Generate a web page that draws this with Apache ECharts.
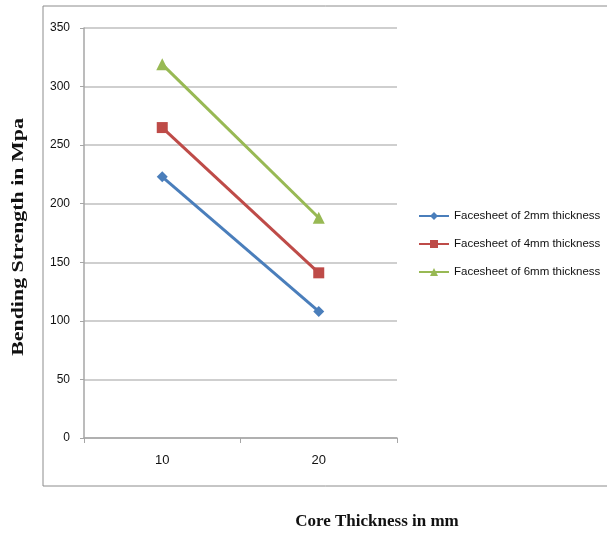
<!DOCTYPE html>
<html><head><meta charset="utf-8">
<script src="https://cdn.jsdelivr.net/npm/echarts@6/dist/echarts.min.js"></script>
<style>html,body{margin:0;padding:0;background:#fff}#c{width:607px;height:533px}</style>
</head><body><div id="c"></div>
<script>
const categories = ['10', '20'];
const series2mm = [223, 108];
const series4mm = [265, 141];
const series6mm = [319, 188];
const seriesNames = ['Facesheet of 2mm thickness', 'Facesheet of 4mm thickness', 'Facesheet of 6mm thickness'];
const yTitle = 'Bending Strength in Mpa';
const xTitle = 'Core Thickness in mm';

const chart = echarts.init(document.getElementById('c'), null, {renderer: 'canvas'});
const labelFont = '"Liberation Sans", Arial, sans-serif';
const mk = (name, data, color, symbol, size) => ({
  name, type: 'line', data, symbol, symbolSize: size,
  lineStyle: {color, width: 3}, itemStyle: {color}, animation: false
});
chart.setOption({
  animation: false,
  backgroundColor: '#fff',
  grid: {left: 84, right: 210, top: 28, bottom: 95, containLabel: false},
  xAxis: {
    type: 'category', data: categories, boundaryGap: true,
    axisLine: {lineStyle: {color: '#a6a6a6', width: 1.5}},
    axisTick: {show: true, length: 5, lineStyle: {color: '#a6a6a6'}},
    axisLabel: {color: '#111', fontFamily: labelFont, fontSize: 13, margin: 16}
  },
  yAxis: {
    type: 'value', min: 0, max: 350, interval: 50,
    axisLine: {show: true, lineStyle: {color: '#a6a6a6', width: 1.5}},
    axisTick: {show: true, length: 4, lineStyle: {color: '#a6a6a6'}},
    splitLine: {lineStyle: {color: '#bfbfbf', width: 1.5}},
    axisLabel: {color: '#111', fontFamily: labelFont, fontSize: 12, margin: 14}
  },
  legend: {
    orient: 'vertical', left: 413, top: 205, itemGap: 16, itemWidth: 30, itemHeight: 10,
    textStyle: {color: '#111', fontFamily: labelFont, fontSize: 11.5},
    data: seriesNames.map(n => ({name: n}))
  },
  series: [
    mk(seriesNames[0], series2mm, '#4a7ebb', 'diamond', 11),
    mk(seriesNames[1], series4mm, '#be4b48', 'rect', 11),
    mk(seriesNames[2], series6mm, '#98b954', 'triangle', 12)
  ],
  graphic: [
    {type: 'rect', shape: {x: 43, y: 6, width: 620, height: 480}, style: {fill: 'none', stroke: '#8c8c8c', lineWidth: 1}, z: -1},
    {type: 'text', x: 19, y: 237, rotation: Math.PI / 2, scaleX: 1.37, style: {text: yTitle, font: 'bold 16px "Liberation Serif", serif', fill: '#111', textAlign: 'center', textVerticalAlign: 'middle'}},
    {type: 'text', x: 377, y: 522, style: {text: xTitle, font: 'bold 17px "Liberation Serif", serif', fill: '#111', textAlign: 'center', textVerticalAlign: 'middle'}}
  ]
});
</script></body></html>
